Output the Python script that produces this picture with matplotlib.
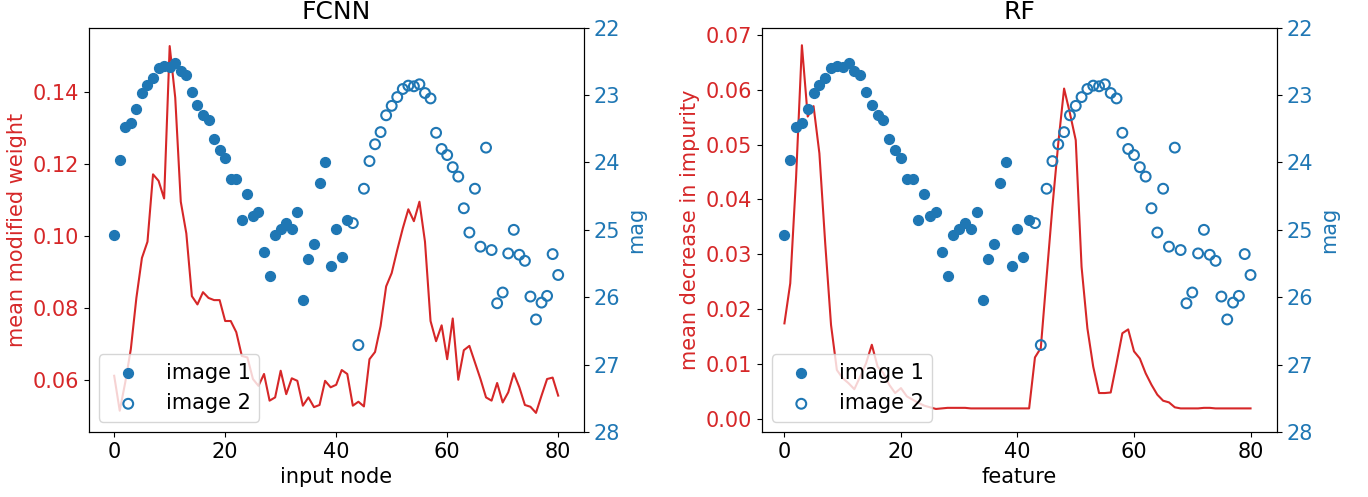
import numpy as np
import matplotlib
matplotlib.use("Agg")
import matplotlib.pyplot as plt

# --- data
node = np.arange(81)

mag_img1 = [25.07, 23.97, 23.48, 23.41, 23.21, 22.97, 22.85, 22.74, 22.60, 22.57,
            22.58, 22.52, 22.65, 22.70, 22.95, 23.15, 23.30, 23.37, 23.65, 23.81,
            23.93, 24.24, 24.24, 24.86, 24.47, 24.79, 24.74, 25.33, 25.68, 25.08,
            24.99, 24.90, 24.99, 24.74, 26.04, 25.44, 25.21, 24.30, 24.00, 25.53,
            24.99, 25.40, 24.85]
mag_img2 = [24.90, 26.71, 24.39, 23.98, 23.73, 23.55, 23.30, 23.16, 23.03, 22.91,
            22.86, 22.87, 22.84, 22.97, 23.05, 23.56, 23.80, 23.89, 24.07, 24.21,
            24.68, 25.04, 24.39, 25.25, 23.78, 25.30, 26.09, 25.93, 25.35, 25.00,
            25.37, 25.46, 25.99, 26.33, 26.08, 25.98, 25.36, 25.67]
x_img1 = node[:len(mag_img1)]
x_img2 = node[len(mag_img1):]

fcnn_weight = [0.0612, 0.0515, 0.0594, 0.0686, 0.0828, 0.0939, 0.0984, 0.1171, 0.1153, 0.1104,
               0.1527, 0.1384, 0.1095, 0.1007, 0.0833, 0.0810, 0.0844, 0.0828, 0.0822, 0.0822,
               0.0764, 0.0764, 0.0733, 0.0667, 0.0663, 0.0603, 0.0584, 0.0617, 0.0543, 0.0552,
               0.0626, 0.0561, 0.0605, 0.0598, 0.0529, 0.0552, 0.0525, 0.0531, 0.0598, 0.0580,
               0.0587, 0.0628, 0.0617, 0.0529, 0.0540, 0.0527, 0.0658, 0.0678, 0.0750, 0.0860,
               0.0897, 0.0961, 0.1021, 0.1074, 0.1041, 0.1095, 0.0984, 0.0764, 0.0708, 0.0752,
               0.0658, 0.0771, 0.0601, 0.0683, 0.0695, 0.0649, 0.0603, 0.0552, 0.0543, 0.0592,
               0.0538, 0.0566, 0.0619, 0.0580, 0.0531, 0.0526, 0.0509, 0.0557, 0.0603, 0.0607,
               0.0557]

rf_impurity = [0.0174, 0.0247, 0.0440, 0.0681, 0.0551, 0.0570, 0.0484, 0.0320, 0.0171, 0.0089,
               0.0074, 0.0065, 0.0054, 0.0077, 0.0101, 0.0135, 0.0095, 0.0083, 0.0062, 0.0047,
               0.0056, 0.0041, 0.0035, 0.0029, 0.0024, 0.0021, 0.0018, 0.0019, 0.0020, 0.0020,
               0.0020, 0.0020, 0.0019, 0.0019, 0.0019, 0.0019, 0.0019, 0.0019, 0.0019, 0.0019,
               0.0019, 0.0019, 0.0019, 0.0112, 0.0129, 0.0259, 0.0387, 0.0502, 0.0602, 0.0557,
               0.0508, 0.0277, 0.0165, 0.0095, 0.0047, 0.0047, 0.0048, 0.0101, 0.0156, 0.0163,
               0.0123, 0.0110, 0.0083, 0.0062, 0.0044, 0.0033, 0.0030, 0.0021, 0.0019, 0.0019,
               0.0019, 0.0019, 0.0020, 0.0020, 0.0019, 0.0019, 0.0019, 0.0019, 0.0019, 0.0019,
               0.0019]

plt.rcParams['font.size'] = 15
red = 'tab:red'
blue = 'tab:blue'

fig = plt.figure(figsize=(13.68, 4.97), dpi=100)
ax_l = fig.add_axes([0.0648, 0.1308, 0.3623, 0.8135])
ax_r = fig.add_axes([0.5568, 0.1308, 0.3765, 0.8135])


def panel(ax, weights, title, xlabel, ylabel, xlim, ylim):
    ax.plot(node, weights, color=red, lw=1.5)
    ax.set_title(title)
    ax.set_xlabel(xlabel)
    ax.set_ylabel(ylabel, color=red)
    ax.tick_params(axis='y', labelcolor=red)
    ax.set_xlim(*xlim)
    ax.set_ylim(*ylim)

    tw = ax.twinx()
    tw.scatter(x_img1, mag_img1, s=50, color=blue, label='image 1')
    tw.scatter(x_img2, mag_img2, s=50, facecolors='none', edgecolors=blue,
               linewidths=1.5, label='image 2')
    tw.set_ylim(28, 22)
    tw.set_ylabel('mag', color=blue)
    tw.tick_params(axis='y', labelcolor=blue)
    tw.legend(loc='lower left')
    return tw


panel(ax_l, fcnn_weight, 'FCNN', 'input node', 'mean modified weight',
      (-4.6, 84.7), (0.0456, 0.1578))
panel(ax_r, rf_impurity, 'RF', 'feature', 'mean decrease in impurity',
      (-3.9, 84.5), (-0.0024, 0.0713))

fig.savefig('out.png', dpi=100)
